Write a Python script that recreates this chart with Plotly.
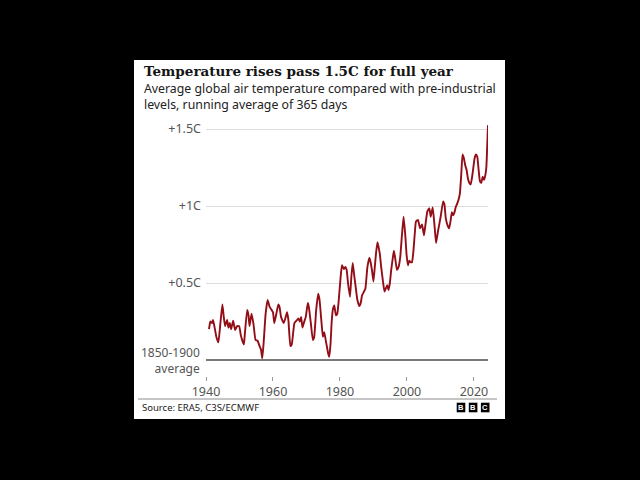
import plotly.graph_objects as go

# ---------------- data ----------------
years = [1940.9, 1941.3, 1941.8, 1942.1, 1942.5, 1943.1, 1943.7, 1944.3, 1944.9, 1945.3,
         1945.7, 1946.3, 1946.7, 1947.1, 1947.5, 1948.1, 1948.7, 1949.3, 1949.9, 1950.4,
         1951.3, 1951.6, 1952.3, 1952.7, 1953.0, 1953.6, 1954.2, 1954.8, 1955.4, 1956.0,
         1956.4, 1956.8, 1957.2, 1957.8, 1958.4, 1959.0, 1959.6, 1960.0, 1960.4, 1961.0,
         1961.6, 1962.0, 1962.4, 1963.2, 1963.8, 1964.2, 1964.6, 1965.2, 1965.6, 1966.4,
         1967.0, 1967.6, 1968.0, 1968.4, 1968.8, 1969.2, 1969.8, 1970.4, 1970.7, 1971.3,
         1971.9, 1972.3, 1972.9, 1973.5, 1973.9, 1974.5, 1974.9, 1975.3, 1975.9, 1976.5,
         1976.8, 1977.2, 1977.5, 1977.9, 1978.3, 1978.8, 1979.2, 1979.6, 1980.2, 1980.6,
         1981.2, 1981.6, 1982.0, 1982.4, 1983.0, 1983.4, 1983.8, 1984.2, 1984.6, 1985.2,
         1985.8, 1986.2, 1986.6, 1987.2, 1987.6, 1988.2, 1988.8, 1989.2, 1989.6, 1990.0,
         1990.4, 1990.8, 1991.2, 1991.6, 1991.9, 1992.3, 1992.9, 1993.3, 1993.7, 1994.1,
         1994.5, 1994.9, 1995.3, 1995.7, 1996.1, 1996.5, 1997.0, 1997.5, 1998.0, 1998.5,
         1999.0, 1999.5, 1999.9, 2000.3, 2000.7, 2001.1, 2001.5, 2001.9, 2002.3, 2002.7,
         2003.3, 2003.9, 2004.5, 2005.1, 2005.5, 2006.1, 2006.7, 2007.1, 2007.7, 2008.3,
         2008.7, 2009.3, 2010.1, 2010.8, 2011.2, 2011.6, 2012.2, 2012.6, 2013.0, 2013.4,
         2013.8, 2014.2, 2014.6, 2015.0, 2015.4, 2015.8, 2016.2, 2016.6, 2017.0, 2017.4,
         2017.8, 2018.2, 2018.6, 2019.0, 2019.4, 2019.8, 2020.2, 2020.6, 2021.0, 2021.4,
         2021.8, 2022.2, 2022.6, 2023.0, 2023.4, 2023.7, 2023.9, 2024.2]

temps = [0.20, 0.25, 0.24, 0.26, 0.22, 0.15, 0.115, 0.24, 0.36, 0.28,
         0.22, 0.26, 0.21, 0.24, 0.20, 0.255, 0.195, 0.22, 0.22, 0.16,
         0.10, 0.17, 0.325, 0.29, 0.22, 0.30, 0.23, 0.13, 0.125, 0.09,
         0.07, 0.01, 0.11, 0.30, 0.39, 0.345, 0.325, 0.31, 0.24, 0.30,
         0.36, 0.34, 0.28, 0.24, 0.28, 0.31, 0.26, 0.09, 0.10, 0.24,
         0.255, 0.27, 0.25, 0.28, 0.21, 0.24, 0.28, 0.37, 0.345, 0.24,
         0.13, 0.15, 0.325, 0.43, 0.39, 0.24, 0.15, 0.18, 0.11, 0.04,
         0.02, 0.11, 0.24, 0.33, 0.355, 0.29, 0.30, 0.38, 0.54, 0.615,
         0.59, 0.605, 0.585, 0.50, 0.41, 0.54, 0.63, 0.56, 0.49, 0.39,
         0.35, 0.37, 0.42, 0.445, 0.465, 0.605, 0.665, 0.63, 0.575, 0.51,
         0.605, 0.70, 0.765, 0.725, 0.69, 0.605, 0.50, 0.445, 0.465, 0.485,
         0.455, 0.50, 0.585, 0.65, 0.71, 0.66, 0.585, 0.605, 0.67, 0.81,
         0.93, 0.81, 0.68, 0.615, 0.645, 0.635, 0.635, 0.70, 0.81, 0.90,
         0.91, 0.855, 0.88, 0.81, 0.875, 0.965, 0.985, 0.93, 0.99, 0.855,
         0.76, 0.84, 0.935, 1.03, 1.01, 0.92, 0.87, 0.855, 0.90, 0.96,
         0.94, 0.96, 0.995, 1.015, 1.04, 1.08, 1.20, 1.335, 1.31, 1.265,
         1.235, 1.18, 1.15, 1.14, 1.18, 1.245, 1.31, 1.335, 1.32, 1.235,
         1.16, 1.15, 1.19, 1.17, 1.20, 1.25, 1.35, 1.525]

x_tick_vals = [1940, 1960, 1980, 2000, 2020]
x_tick_text = ["1940", "1960", "1980", "2000", "2020"]
y_tick_vals = [0, 0.5, 1.0, 1.5]
y_tick_text = ["", "+0.5C", "+1C", "+1.5C"]
baseline_label = ["1850-1900", "average"]

title_text = "Temperature rises pass 1.5C for full year"
subtitle_lines = ["Average global air temperature compared with pre-industrial",
                  "levels, running average of 365 days"]
source_text = "Source: ERA5, C3S/ECMWF"
logo_letters = ["B", "B", "C"]

# ---------------- layout geometry (pixels) ----------------
W, H = 640, 480
L, R, T, B = 206, 488, 115, 376   # plot area edges
ZERO_PX, PX_PER_UNIT = 360, 154
y_range = [-(B - ZERO_PX) / PX_PER_UNIT, (ZERO_PX - T) / PX_PER_UNIT]
x_range = [1940, 2024.2]


def fx(p):
    return (p - L) / (R - L)


def fy(p):
    return (B - p) / (B - T)


SANS = "Noto Sans"
GREY = "#555555"

fig = go.Figure()
fig.add_trace(go.Scatter(
    x=years, y=temps, mode="lines",
    line=dict(color="#930d16", width=1.9, shape="spline", smoothing=0.4),
    hoverinfo="skip", showlegend=False,
))

shapes = [
    # white card
    dict(type="rect", xref="paper", yref="paper", x0=fx(134), x1=fx(505),
         y0=fy(419), y1=fy(60), fillcolor="white", line=dict(width=0), layer="below"),
    # source separator
    dict(type="line", xref="paper", yref="paper", x0=fx(138), x1=fx(497),
         y0=fy(399), y1=fy(399), line=dict(color="#8c8c8c", width=1)),
]
annotations = [
    dict(text="<b>" + title_text + "</b>", xref="paper", yref="paper",
         x=fx(142), y=fy(71), xanchor="left", yanchor="middle", showarrow=False,
         font=dict(family="DejaVu Serif", size=13.5, color="#141414")),
    dict(text="<br>".join(subtitle_lines), xref="paper", yref="paper",
         x=fx(142), y=fy(96.5), xanchor="left", yanchor="middle", align="left",
         showarrow=False,
         font=dict(family=SANS, size=12.3, color="#222222")),
    dict(text=source_text, xref="paper", yref="paper",
         x=fx(140), y=fy(407.5), xanchor="left", yanchor="middle", showarrow=False,
         font=dict(family=SANS, size=9.5, color="#222222")),
    dict(text="<br>".join(baseline_label), xref="paper", yref="y", x=fx(201.5), y=0,
         yshift=-0.5, xanchor="right", yanchor="middle", align="right", showarrow=False,
         font=dict(family=SANS, size=12, color=GREY)),
]

# BBC blocks
for i, letter in enumerate(logo_letters):
    x0 = 456.7 + i * 12.1
    shapes.append(dict(type="rect", xref="paper", yref="paper", x0=fx(x0), x1=fx(x0 + 8.6),
                       y0=fy(412.3), y1=fy(402.7), fillcolor="black", line=dict(width=0)))
    annotations.append(dict(text="<b>" + letter + "</b>", xref="paper", yref="paper",
                            x=fx(x0 + 4.3), y=fy(407.6), xanchor="center", yanchor="middle",
                            showarrow=False,
                            font=dict(family="Liberation Sans", size=7.5, color="white")))

fig.update_layout(
    width=W, height=H,
    margin=dict(l=L, r=W - R, t=T, b=H - B, pad=0),
    paper_bgcolor="black", plot_bgcolor="white",
    shapes=shapes, annotations=annotations,
    showlegend=False,
    xaxis=dict(range=x_range, tickvals=x_tick_vals, ticktext=x_tick_text,
               showgrid=False, zeroline=False, showline=False,
               ticks="outside", ticklen=4, tickwidth=1, tickcolor="#9a9a9a",
               ticklabelstandoff=0,
               tickfont=dict(family=SANS, size=12.5, color=GREY), fixedrange=True),
    yaxis=dict(range=y_range, tickvals=y_tick_vals, ticktext=y_tick_text,
               showgrid=True, gridcolor="#dddddd", gridwidth=1,
               zeroline=True, zerolinecolor="#7a7a7a", zerolinewidth=1.5,
               showline=False, ticks="", ticklabelstandoff=4,
               tickfont=dict(family=SANS, size=12.5, color=GREY), fixedrange=True),
)

page_fix = ("document.documentElement.style.background='black';"
            "document.body.style.margin='0';"
            "document.body.style.background='black';"
            "document.body.style.overflow='hidden';")

fig.write_html("out.html", config={"displayModeBar": False}, post_script=page_fix)
